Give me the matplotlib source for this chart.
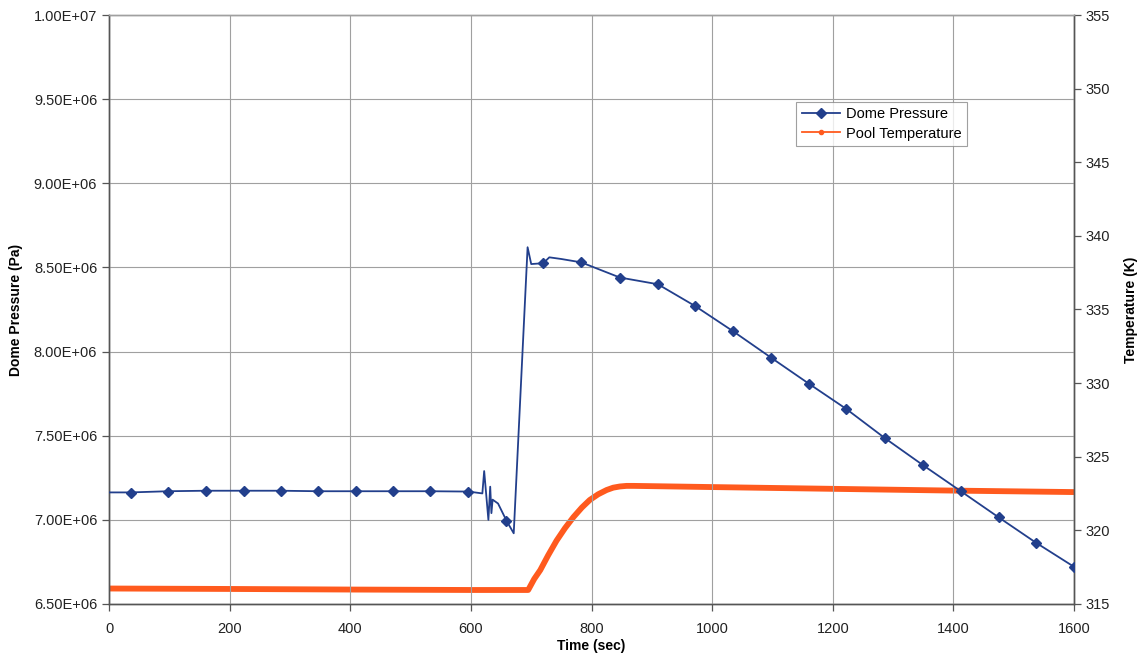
import matplotlib.pyplot as plt
from matplotlib.lines import Line2D
from matplotlib.ticker import FuncFormatter

plt.rcParams['font.family'] = ['Liberation Sans', 'DejaVu Sans']

# dome pressure curve (s, Pa)
time_p = [0, 36, 98, 160, 223, 285, 347, 410, 471, 533, 596, 619, 622, 629,
          632, 634, 636, 645, 659, 671, 694, 700, 720, 730, 750, 783, 847,
          910, 972, 1035, 1098, 1160, 1222, 1287, 1350, 1412, 1475, 1537, 1600]
pressure = [7.163e6, 7.163e6, 7.170e6, 7.173e6, 7.173e6, 7.173e6, 7.170e6,
            7.170e6, 7.170e6, 7.170e6, 7.168e6, 7.157e6, 7.29e6, 7.00e6,
            7.197e6, 7.04e6, 7.12e6, 7.097e6, 6.995e6, 6.92e6, 8.62e6,
            8.52e6, 8.525e6, 8.56e6, 8.55e6, 8.53e6, 8.44e6, 8.40e6, 8.27e6,
            8.12e6, 7.963e6, 7.81e6, 7.66e6, 7.484e6, 7.324e6, 7.171e6,
            7.015e6, 6.864e6, 6.721e6]

# sample points shown with diamonds
time_mark = [36, 98, 160, 223, 285, 347, 410, 471, 533, 596, 659, 720, 783,
             847, 910, 972, 1035, 1098, 1160, 1222, 1287, 1350, 1412, 1475,
             1537, 1600]
pressure_mark = [7.160e6, 7.168e6, 7.172e6, 7.172e6, 7.172e6, 7.170e6,
                 7.169e6, 7.169e6, 7.169e6, 7.168e6, 6.995e6, 8.525e6,
                 8.53e6, 8.44e6, 8.40e6, 8.27e6, 8.12e6, 7.963e6, 7.81e6,
                 7.66e6, 7.484e6, 7.324e6, 7.171e6, 7.015e6, 6.864e6, 6.721e6]

# pool temperature (s, K)
time_t = [0, 200, 400, 600, 695, 705, 715, 728, 742, 756, 770, 784, 797, 811,
          825, 836, 847, 858, 870, 1000, 1200, 1400, 1600]
temperature = [316.05, 316.02, 315.98, 315.95, 315.95, 316.7, 317.3, 318.3,
               319.3, 320.15, 320.9, 321.55, 322.06, 322.45, 322.74, 322.9,
               322.98, 323.02, 323.02, 322.94, 322.82, 322.7, 322.6]

navy = '#223f8c'
orange = '#ff5a1e'
grid_c = '#a0a0a0'
spine_c = '#555555'

fig = plt.figure(figsize=(11.37, 6.58), dpi=100)
ax = fig.add_axes([0.0959, 0.0821, 0.8487, 0.8951])
ax2 = ax.twinx()

ax.set_xlim(0, 1600)
ax.set_ylim(6.5e6, 1.0e7)
ax.set_xticks(range(0, 1601, 200))
ax.set_yticks([6.5e6 + 0.5e6 * i for i in range(8)])
ax.yaxis.set_major_formatter(FuncFormatter(lambda v, p: f"{v:.2E}"))
ax.grid(True, color=grid_c, linewidth=0.8)
ax.set_axisbelow(True)

ax2.set_ylim(315, 355)
ax2.set_yticks(range(315, 356, 5))

ax2.plot(time_t, temperature, color=orange, linewidth=4.2,
         solid_capstyle='butt', solid_joinstyle='round', zorder=2)
ax.set_zorder(ax2.get_zorder() + 1)
ax.patch.set_visible(False)
ax.plot(time_p, pressure, color=navy, linewidth=1.3, zorder=3)
ax.plot(time_mark, pressure_mark, linestyle='none', marker='D',
        markersize=5.5, color=navy, zorder=4)

for a in (ax, ax2):
    for s in a.spines.values():
        s.set_color(spine_c)
        s.set_linewidth(1.0)
    a.spines['top'].set_color(grid_c)
    a.tick_params(direction='out', length=5, width=0.9, color=spine_c,
                  labelsize=10.5, labelcolor='#222222')

ax.tick_params(axis='x', pad=8)
ax.set_xlabel('Time (sec)', fontsize=10, fontweight='bold', labelpad=2)
ax.set_ylabel('Dome Pressure (Pa)', fontsize=10, fontweight='bold',
              labelpad=8)
ax2.set_ylabel('Temperature (K)', fontsize=10, fontweight='bold',
               rotation=90, labelpad=10)

handles = [Line2D([], [], color=navy, linewidth=1.3, marker='D',
                  markersize=5.5),
           Line2D([], [], color=orange, linewidth=1.3, marker='o',
                  markersize=3)]
leg = ax.legend(handles, ['Dome Pressure', 'Pool Temperature'],
                loc='upper left', bbox_to_anchor=(0.712, 0.853),
                fontsize=10.5, frameon=True, fancybox=False,
                borderpad=0.4, handlelength=2.6, labelspacing=0.35,
                handletextpad=0.4, borderaxespad=0)
leg.get_frame().set_edgecolor('#888888')
leg.get_frame().set_linewidth(0.8)

fig.savefig('out.png', dpi=100)
